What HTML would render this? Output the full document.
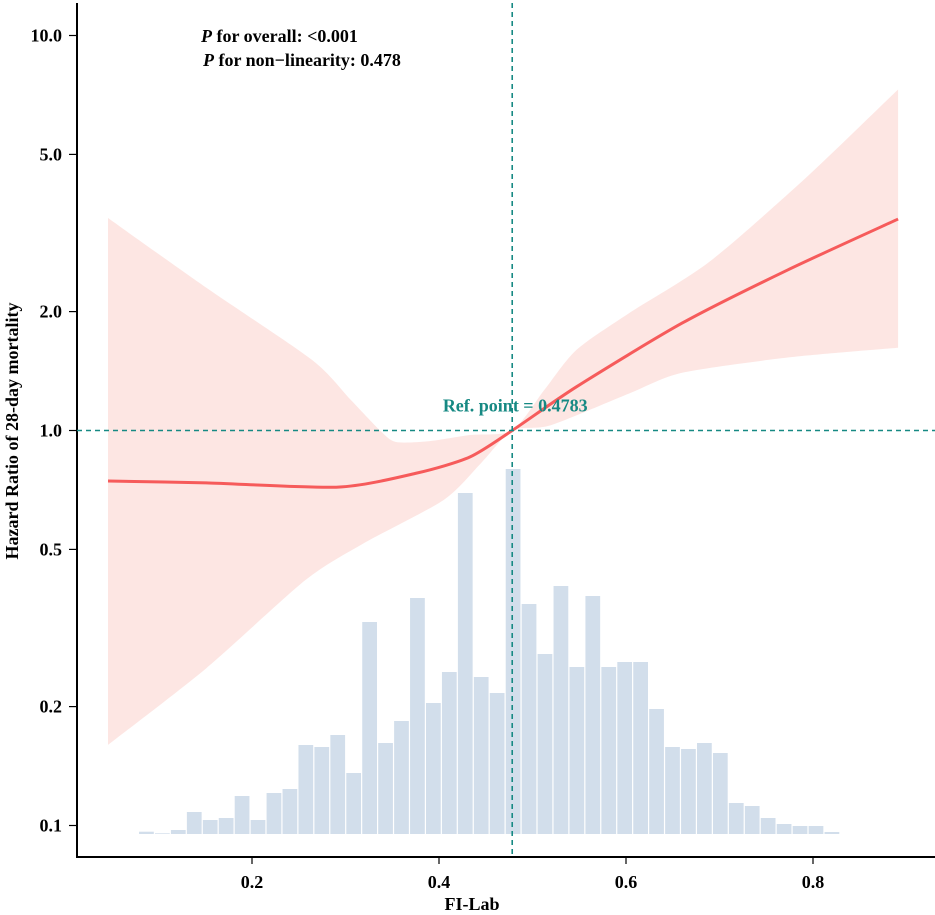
<!DOCTYPE html>
<html><head><meta charset="utf-8"><style>
html,body{margin:0;padding:0;background:#fff}
svg{display:block;font-family:"Liberation Serif",serif;font-weight:bold}
</style></head><body>
<svg id="chart" width="935" height="915" viewBox="0 0 935 915" xmlns="http://www.w3.org/2000/svg">
<g id="hist"></g>
<path id="band" fill="#fde3e0" fill-opacity="0.9" stroke="none"/>
<path id="line" fill="none" stroke="#f65b5b" stroke-width="3"/>
<g id="axes"></g>
<line id="refv" stroke="#168983" stroke-width="1.6" stroke-dasharray="5,4"/>
<line id="refh" stroke="#168983" stroke-width="1.6" stroke-dasharray="5,4"/>
<text id="reflabel" fill="#168983" font-size="18" text-anchor="middle">Ref. point = 0.4783</text>
<text x="201" y="42" font-size="18"><tspan font-style="italic">P</tspan> for overall: &lt;0.001</text>
<text x="203" y="66" font-size="18"><tspan font-style="italic">P</tspan> for non−linearity: 0.478</text>
<text x="472" y="910" font-size="18" text-anchor="middle">FI-Lab</text>
<text transform="translate(18,431) rotate(-90)" font-size="18" text-anchor="middle">Hazard Ratio of 28-day mortality</text>
</svg>
<script>
const xTicks=[0.2,0.4,0.6,0.8];
const yTicks=[0.1,0.2,0.5,1.0,2.0,5.0,10.0];
const refPoint=0.4783;
const histStart=0.0792, histBin=0.01705;
const histCounts=[2.3,0.7,4,22,14,16,38,14,41,45,89,87,99,61,212,91,113,236,131,162,341,157,141,365,230,180,248,167,238,167,172,172,125,87,85,91,81,31,28,16,10,8,8,2];
const curveX=[0.046,0.151,0.292,0.376,0.433,0.4783,0.547,0.660,0.773,0.891];
const curveHR=[0.745,0.737,0.719,0.78,0.857,1.0,1.29,1.87,2.55,3.43];
const upperX=[0.046,0.151,0.264,0.305,0.337,0.354,0.390,0.433,0.4783,0.513,0.547,0.603,0.688,0.790,0.891];
const upperHR=[3.45,2.30,1.51,1.20,1.0,0.935,0.94,0.974,1.0,1.27,1.60,1.98,2.66,4.31,7.3];
const lowerX=[0.046,0.151,0.257,0.320,0.405,0.445,0.4783,0.519,0.603,0.660,0.773,0.891];
const lowerHR=[0.16,0.25,0.418,0.519,0.667,0.827,1.0,1.03,1.24,1.40,1.53,1.62];

const X0=65, XS=935, Y1=430.5, YS=395;
const sx=v=>X0+v*XS;
const sy=v=>Y1-Math.log10(v)*YS;
const NS="http://www.w3.org/2000/svg";
function mk(tag,attrs,parent){const e=document.createElementNS(NS,tag);for(const k in attrs)e.setAttribute(k,attrs[k]);parent.appendChild(e);return e;}
function smooth(pts){let d="M"+pts[0][0]+","+pts[0][1];
 for(let i=0;i<pts.length-1;i++){const p0=pts[Math.max(0,i-1)],p1=pts[i],p2=pts[i+1],p3=pts[Math.min(pts.length-1,i+2)];
  const c1=[p1[0]+(p2[0]-p0[0])/8,p1[1]+(p2[1]-p0[1])/8],c2=[p2[0]-(p3[0]-p1[0])/8,p2[1]-(p3[1]-p1[1])/8];
  d+=" C"+c1[0]+","+c1[1]+" "+c2[0]+","+c2[1]+" "+p2[0]+","+p2[1];}
 return d;}
function rsmooth(pts){const r=pts.slice().reverse();return smooth(r).replace(/^M/,"L");}

const hist=document.getElementById('hist');
const base=834;
histCounts.forEach((c,i)=>{
 const x=sx(histStart+i*histBin);
 const r=mk('rect',{x:x,y:base-c,width:histBin*XS-1.2,height:c,fill:'#d2deeb'},hist);
 
 
});
const up=upperX.map((v,i)=>[sx(v),sy(upperHR[i])]);
const lo=lowerX.map((v,i)=>[sx(v),sy(lowerHR[i])]);
document.getElementById('band').setAttribute('d',smooth(up)+" "+rsmooth(lo)+" Z");
document.getElementById('line').setAttribute('d',smooth(curveX.map((v,i)=>[sx(v),sy(curveHR[i])])));
const rv=document.getElementById('refv');
rv.setAttribute('x1',sx(refPoint));rv.setAttribute('x2',sx(refPoint));rv.setAttribute('y1',3);rv.setAttribute('y2',857);
const rh=document.getElementById('refh');
rh.setAttribute('x1',77);rh.setAttribute('x2',935);rh.setAttribute('y1',sy(1));rh.setAttribute('y2',sy(1));
const rl=document.getElementById('reflabel');rl.setAttribute('x',sx(refPoint)+3);rl.setAttribute('y',sy(1)-19);
const ax=document.getElementById('axes');
const yl=mk('line',{x1:77,y1:3,x2:77,y2:858,stroke:'#000','stroke-width':2},ax);


const xl=mk('line',{x1:76,y1:857,x2:935,y2:857,stroke:'#000','stroke-width':2},ax);


xTicks.forEach(t=>{
 const x=sx(t);
 const tk=mk('line',{x1:x,y1:857,x2:x,y2:864,stroke:'#000','stroke-width':1.2},ax);
 
 
 const tx=mk('text',{x:x,y:888,'font-size':18,'text-anchor':'middle'},ax);
 tx.textContent=t.toFixed(1);
 
 
});
yTicks.forEach(t=>{
 const y=sy(t);
 const tk=mk('line',{x1:69,y1:y,x2:77,y2:y,stroke:'#000','stroke-width':1.2},ax);
 
 
 const tx=mk('text',{x:62,y:y+6,'font-size':18,'text-anchor':'end'},ax);
 tx.textContent=t.toFixed(1);
 
 
});
</script>
</body></html>
